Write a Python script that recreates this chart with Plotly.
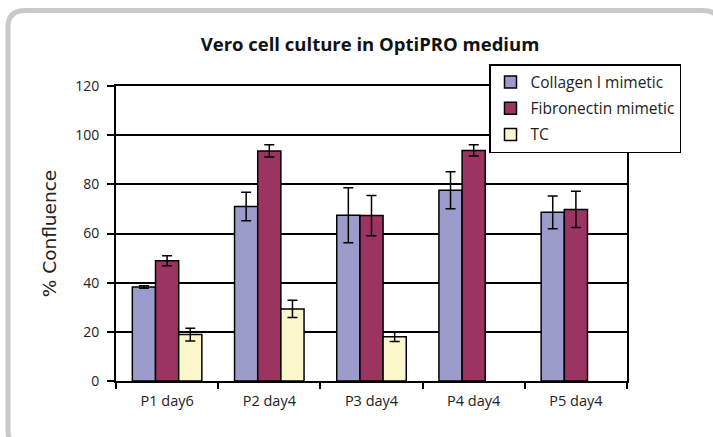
import plotly.graph_objects as go

categories = ["P1 day6", "P2 day4", "P3 day4", "P4 day4", "P5 day4"]
series_names = ["Collagen I mimetic", "Fibronectin mimetic", "TC"]
collagen = [38.2, 71.0, 67.4, 77.6, 68.6]
collagen_err = [0.5, 5.8, 11.2, 7.5, 6.7]
fibronectin = [48.9, 93.6, 67.3, 93.8, 69.8]
fibronectin_err = [2.0, 2.5, 8.2, 2.3, 7.4]
tc = [18.9, 29.3, 18.0, None, None]
tc_err = [2.6, 3.5, 1.9, None, None]
y_ticks = [0, 20, 40, 60, 80, 100, 120]

colors = ["#9c9ccc", "#9c3462", "#fbf7cb"]

W, H = 713, 437
L, R, T, B = 116, 627, 86, 381  # plot area in pixels


def px(x):
    return (x - L) / (R - L)


def py(y):
    return (B - y) / (B - T)


fig = go.Figure()
for name, vals, errs, col in zip(series_names, [collagen, fibronectin, tc],
                                 [collagen_err, fibronectin_err, tc_err], colors):
    fig.add_trace(go.Bar(
        name=name, x=categories, y=vals, legendgroup=name,
        marker=dict(color=col, line=dict(color="black", width=1.5)),
        error_y=dict(type="data", array=errs, visible=True, color="black",
                     thickness=1.5, width=5),
    ))

# rounded frame
x0, y0, x1, y1, r = 8, 10.5, 720, 447, 17
path = (f"M {px(x0)},{py(y0 + r)} "
        f"Q {px(x0)},{py(y0)} {px(x0 + r)},{py(y0)} "
        f"L {px(x1 - r)},{py(y0)} "
        f"Q {px(x1)},{py(y0)} {px(x1)},{py(y0 + r)} "
        f"L {px(x1)},{py(y1 - r)} "
        f"Q {px(x1)},{py(y1)} {px(x1 - r)},{py(y1)} "
        f"L {px(x0 + r)},{py(y1)} "
        f"Q {px(x0)},{py(y1)} {px(x0)},{py(y1 - r)} Z")

fig.update_layout(
    width=W, height=H,
    margin=dict(l=L, r=W - R, t=T, b=H - B),
    paper_bgcolor="white", plot_bgcolor="white",
    barmode="group", bargap=0.32, bargroupgap=0,
    font=dict(family="Open Sans", size=14, color="#222"),
    title=dict(text="<b>Vero cell culture in OptiPRO medium</b>",
               x=px(370), xref="paper", xanchor="center",
               y=1 - 45 / H, yref="container", yanchor="middle",
               font=dict(family="Open Sans", size=18.5, color="#111")),
    showlegend=True,
    legend=dict(x=px(489), y=py(64), xanchor="left", yanchor="top",
                xref="paper", yref="paper",
                bgcolor="white", bordercolor="black", borderwidth=1.5,
                traceorder="grouped", tracegroupgap=3,
                font=dict(family="Open Sans", size=15.5, color="#222")),
    shapes=[dict(type="path", xref="paper", yref="paper", path=path,
                 line=dict(color="#c8c9cb", width=5), layer="below")],
)

fig.update_xaxes(
    type="category", showline=True, linecolor="black", linewidth=2,
    mirror=True, ticks="outside", tickson="boundaries", ticklen=6,
    tickwidth=1.5, tickcolor="black", ticklabelstandoff=6,
    showgrid=False, tickfont=dict(family="Open Sans", size=14.5, color="#222"),
)
fig.update_yaxes(
    range=[0, 120], tickvals=y_ticks, showline=True, linecolor="black",
    linewidth=2, mirror=True, ticks="outside", ticklen=7, tickwidth=1.5,
    tickcolor="black", ticklabelstandoff=5,
    showgrid=True, gridcolor="black", gridwidth=1.5, zeroline=False,
    tickfont=dict(family="Open Sans", size=14, color="#222"),
    title=dict(text="% Confluence", standoff=14,
               font=dict(family="DejaVu Sans", size=18.5, color="#222")),
)

fig.write_html("out.html", config={"displayModeBar": False},
               post_script="document.body.style.margin='0';")
